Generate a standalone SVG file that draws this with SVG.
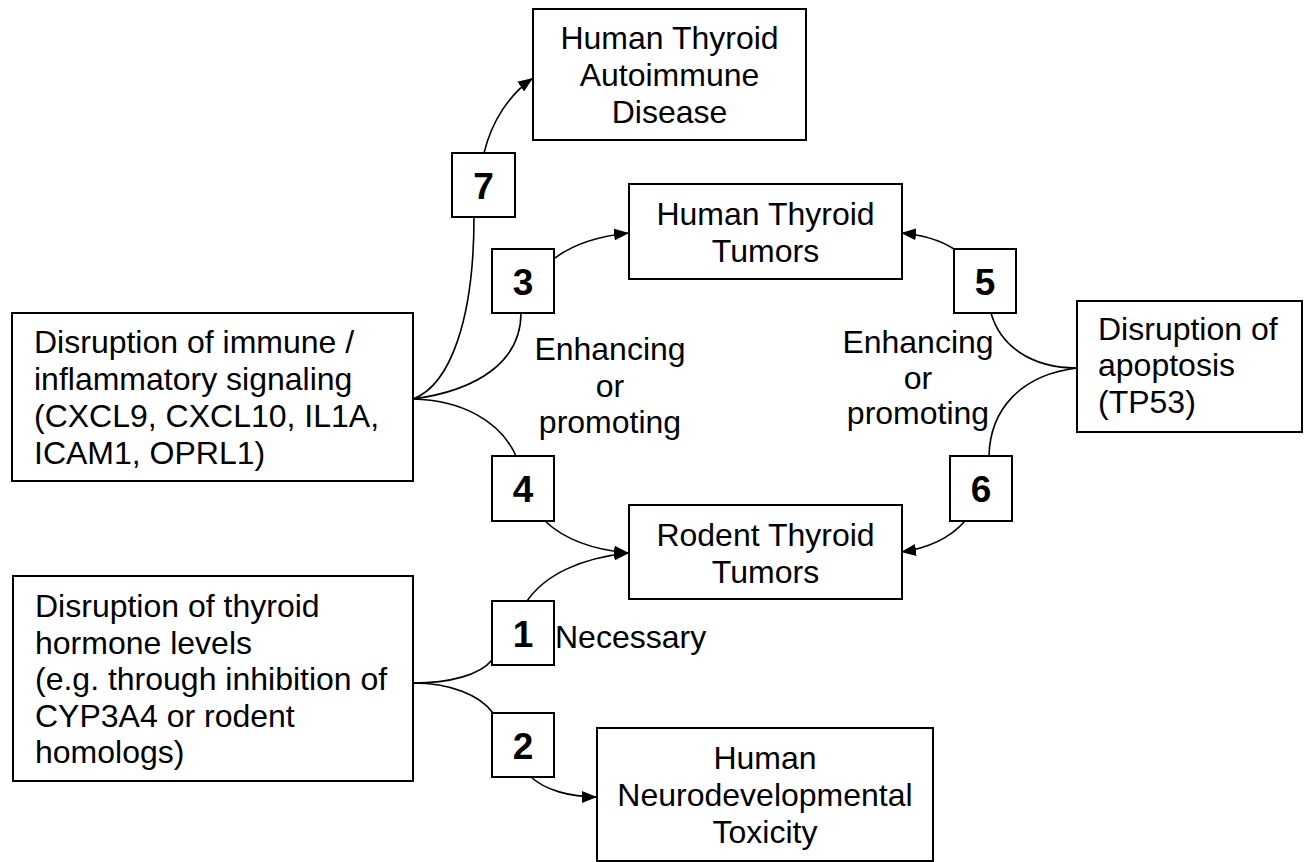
<svg xmlns="http://www.w3.org/2000/svg" width="1306" height="862" viewBox="0 0 1306 862">
<style>
.box{fill:#fff;stroke:#000;stroke-width:2}
.t{font-family:"Liberation Sans",Arial,sans-serif;font-size:32px;fill:#000}
.c{text-anchor:middle}
.n{font-family:"Liberation Sans",Arial,sans-serif;font-size:37px;font-weight:bold;text-anchor:middle;fill:#000}
.e{fill:none;stroke:#000;stroke-width:1.6}
</style>
<defs>
<marker id="ah" markerUnits="userSpaceOnUse" markerWidth="16" markerHeight="12" refX="15" refY="6" orient="auto">
<path d="M0,0 L15,6 L0,12 z" fill="#000"/>
</marker>
</defs>
<rect width="1306" height="862" fill="#fff"/>
<g id="connectors">
<path class="e" d="M413,399 C450,385 474,320 474,217"/>
<path class="e" d="M484,153 C492,120 510,94 533,78" marker-end="url(#ah)"/>
<path class="e" d="M413,399 C480,390 521,360 521,313"/>
<path class="e" d="M555,258 C575,243 600,236 629,233" marker-end="url(#ah)"/>
<path class="e" d="M413,399 C460,400 500,420 516,456"/>
<path class="e" d="M545,521 C565,540 595,550 629,553" marker-end="url(#ah)"/>
<path class="e" d="M527,601 C545,575 580,558 629,553" marker-end="url(#ah)"/>
<path class="e" d="M413,683 C450,683 480,675 492,660"/>
<path class="e" d="M413,683 C450,683 480,695 493,713"/>
<path class="e" d="M531,777 C545,790 570,797 597,797" marker-end="url(#ah)"/>
<path class="e" d="M1077,368 C1030,368 1000,345 991,313"/>
<path class="e" d="M954,249 C940,240 925,235 901,233" marker-end="url(#ah)"/>
<path class="e" d="M1077,368 C1020,375 990,410 989,456"/>
<path class="e" d="M965,521 C950,538 930,548 901,552" marker-end="url(#ah)"/>
</g>
<g id="autoimmune">
<rect class="box" x="533" y="9" width="273" height="131"/>
<text class="t c" x="669.5" y="49">Human Thyroid</text>
<text class="t c" x="669.5" y="86">Autoimmune</text>
<text class="t c" x="669.5" y="123">Disease</text>
</g>
<g id="human-tumors">
<rect class="box" x="629" y="184" width="273" height="95"/>
<text class="t c" x="765.5" y="225">Human Thyroid</text>
<text class="t c" x="765.5" y="262">Tumors</text>
</g>
<g id="rodent-tumors">
<rect class="box" x="629" y="505" width="273" height="94"/>
<text class="t c" x="765.5" y="546">Rodent Thyroid</text>
<text class="t c" x="765.5" y="583">Tumors</text>
</g>
<g id="neuro">
<rect class="box" x="597" y="728" width="336" height="133"/>
<text class="t c" x="765" y="769">Human</text>
<text class="t c" x="765" y="806">Neurodevelopmental</text>
<text class="t c" x="765" y="843">Toxicity</text>
</g>
<g id="immune">
<rect class="box" x="12" y="313" width="401" height="168"/>
<text class="t" x="34" y="353">Disruption of immune /</text>
<text class="t" x="34" y="390">inflammatory signaling</text>
<text class="t" x="34" y="427">(CXCL9, CXCL10, IL1A,</text>
<text class="t" x="34" y="464">ICAM1, OPRL1)</text>
</g>
<g id="thyroid-hormone">
<rect class="box" x="13" y="576" width="400" height="205"/>
<text class="t" x="35" y="617">Disruption of thyroid</text>
<text class="t" x="35" y="654">hormone levels</text>
<text class="t" x="35" y="690">(e.g. through inhibition of</text>
<text class="t" x="35" y="727">CYP3A4 or rodent</text>
<text class="t" x="35" y="763">homologs)</text>
</g>
<g id="apoptosis">
<rect class="box" x="1077" y="301" width="225" height="131"/>
<text class="t" x="1098" y="340">Disruption of</text>
<text class="t" x="1098" y="376">apoptosis</text>
<text class="t" x="1098" y="413">(TP53)</text>
</g>
<g id="label-left">
<text class="t c" x="610" y="360">Enhancing</text>
<text class="t c" x="610" y="397">or</text>
<text class="t c" x="610" y="433">promoting</text>
</g>
<g id="label-right">
<text class="t c" x="918" y="353">Enhancing</text>
<text class="t c" x="918" y="389">or</text>
<text class="t c" x="918" y="424">promoting</text>
</g>
<g id="label-necessary">
<text class="t" x="555" y="648">Necessary</text>
</g>
<g id="n7"><rect class="box" x="452" y="153" width="63" height="64"/><text class="n" x="483.5" y="198.5">7</text></g>
<g id="n3"><rect class="box" x="492" y="249" width="62" height="64"/><text class="n" x="523" y="294.5">3</text></g>
<g id="n4"><rect class="box" x="492" y="456" width="62" height="65"/><text class="n" x="523" y="502">4</text></g>
<g id="n1"><rect class="box" x="492" y="601" width="62" height="64"/><text class="n" x="523" y="646.5">1</text></g>
<g id="n2"><rect class="box" x="492" y="713" width="62" height="64"/><text class="n" x="523" y="758.5">2</text></g>
<g id="n5"><rect class="box" x="954" y="249" width="62" height="64"/><text class="n" x="985" y="294.5">5</text></g>
<g id="n6"><rect class="box" x="950" y="456" width="62" height="65"/><text class="n" x="981" y="502">6</text></g>
</svg>
